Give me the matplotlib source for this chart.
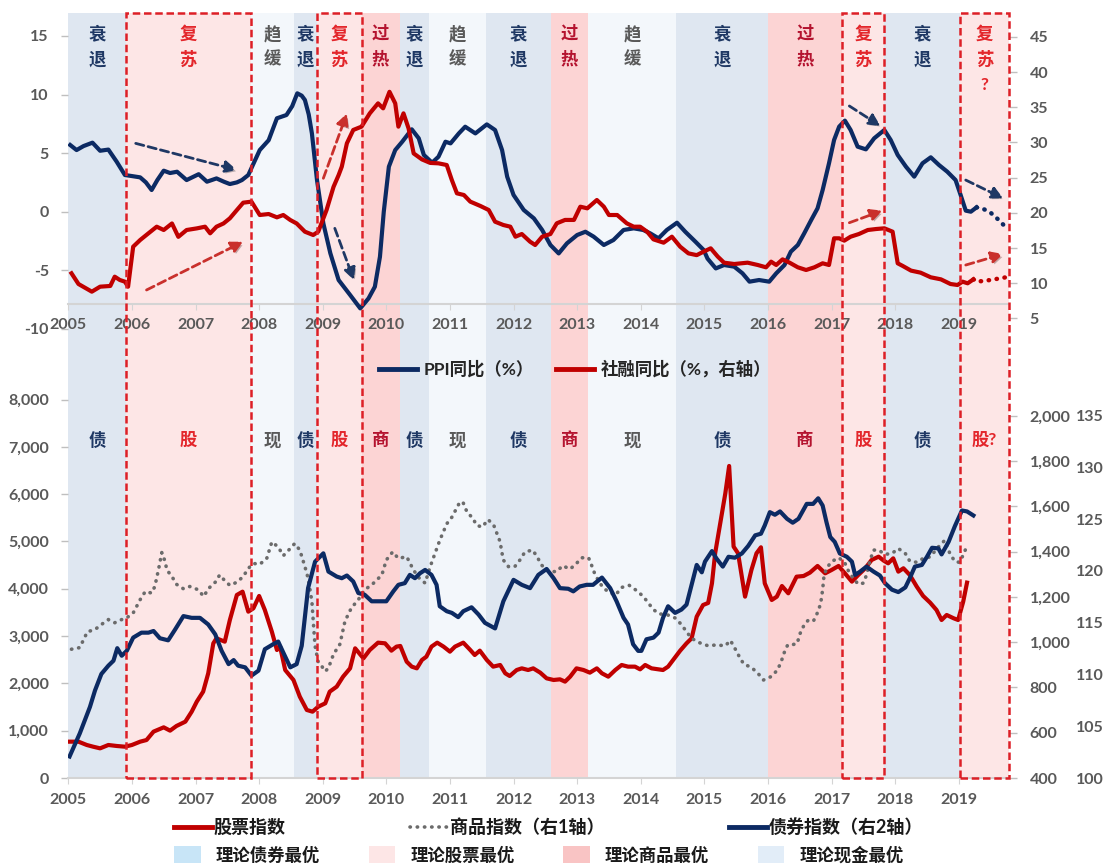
import matplotlib
matplotlib.use("Agg")
import matplotlib.pyplot as plt
import matplotlib.patches as mpatches
import matplotlib.patheffects as pe
from matplotlib.lines import Line2D

plt.rcParams['font.family'] = ['Lato', 'Noto Sans CJK SC', 'DejaVu Sans']
plt.rcParams['font.weight'] = 'bold'
plt.rcParams['axes.unicode_minus'] = False

W, H = 1104, 867
NAVY = '#0c2a63'
RED = '#c00000'
GREY_TXT = '#595959'
AXIS_C = '#d4d4d4'

# ---- cycle phases (shared by both panels) ----
edges = [2005.0, 2005.90, 2007.87, 2008.55, 2008.91, 2009.61, 2010.21, 2010.67, 2011.56,
         2012.59, 2013.17, 2014.56, 2016.0, 2017.17, 2017.82, 2019.02, 2019.79]
phases = ['衰退', '复苏', '趋缓', '衰退', '复苏', '过热', '衰退', '趋缓', '衰退',
          '过热', '趋缓', '衰退', '过热', '复苏', '衰退', '复苏?']
assets = ['债', '股', '现', '债', '股', '商', '债', '现', '债', '商', '现', '债', '商', '股', '债', '股?']
kind_of = {'衰退': 'bond', '复苏': 'stock', '趋缓': 'cash', '过热': 'comm'}

shade = {'bond': '#dfe7f1', 'stock': '#fde6e6', 'comm': '#fcd4d4', 'cash': '#f3f7fb'}
txt_c = {'bond': '#1f3864', 'stock': '#e3262b', 'comm': '#b4132f', 'cash': '#595959'}
key_c = {'bond': '#c8e5f7', 'stock': '#fde6e6', 'comm': '#f9c4c4', 'cash': '#e2edf8'}

# ---- top panel: PPI yoy (left) and social financing yoy (right) ----
ppi_t = [2005.03, 2005.13, 2005.24, 2005.38, 2005.50, 2005.63, 2005.76, 2005.89,
         2006.00, 2006.13, 2006.22, 2006.31, 2006.40, 2006.50, 2006.60, 2006.71, 2006.86,
         2007.05, 2007.18, 2007.33, 2007.45, 2007.54, 2007.65, 2007.73, 2007.83, 2007.92,
         2008.01, 2008.15, 2008.28, 2008.43, 2008.52, 2008.60, 2008.67, 2008.72, 2008.78, 2008.83, 2008.91,
         2009.01, 2009.12, 2009.25, 2009.43, 2009.59, 2009.72, 2009.82, 2009.90, 2009.96,
         2010.04, 2010.14, 2010.25, 2010.40, 2010.51, 2010.59, 2010.72, 2010.82, 2010.93,
         2011.01, 2011.14, 2011.24, 2011.40, 2011.58, 2011.71, 2011.82, 2011.90,
         2012.00, 2012.16, 2012.32, 2012.45, 2012.58, 2012.71, 2012.84,
         2013.00, 2013.13, 2013.26, 2013.42, 2013.57, 2013.73, 2013.89,
         2014.04, 2014.15, 2014.28, 2014.41, 2014.57, 2014.70, 2014.86, 2014.99,
         2015.05, 2015.18, 2015.31, 2015.47, 2015.60, 2015.71, 2015.86,
         2016.02, 2016.13, 2016.26, 2016.36, 2016.47, 2016.57, 2016.68, 2016.78, 2016.86, 2016.96,
         2017.04, 2017.12, 2017.21, 2017.30, 2017.41, 2017.54, 2017.67, 2017.83, 2017.93,
         2018.04, 2018.17, 2018.30, 2018.43, 2018.56, 2018.69, 2018.82, 2018.95,
         2019.03, 2019.11, 2019.19, 2019.28]
ppi_v = [5.69, 5.26, 5.60, 5.89, 5.20, 5.30, 4.27, 3.13,
         3.04, 2.93, 2.50, 1.85, 2.70, 3.50, 3.30, 3.41, 2.70,
         3.20, 2.56, 2.84, 2.55, 2.36, 2.50, 2.70, 3.13, 4.20,
         5.26, 6.10, 7.97, 8.25, 9.00, 10.10, 9.90, 9.53, 8.30, 6.68, 2.70,
         -1.00, -3.55, -5.83, -7.10, -8.25, -7.40, -6.40, -3.84, 0.00,
         3.84, 5.26, 5.97, 7.03, 6.26, 4.84, 4.18, 4.69, 5.97,
         5.83, 6.68, 7.25, 6.68, 7.45, 6.97, 5.26, 2.99,
         1.43, 0.15, -0.57, -1.56, -2.84, -3.56, -2.70,
         -1.99, -1.71, -2.13, -2.84, -2.42, -1.56, -1.42,
         -1.56, -1.85, -2.27, -1.56, -0.94, -1.71, -2.56, -3.27,
         -4.00, -4.84, -4.55, -4.69, -5.26, -5.97, -5.83,
         -5.97, -5.26, -4.55, -3.41, -2.84, -1.85, -0.71, 0.29, 1.85, 4.13,
         6.12, 7.26, 7.77, 6.97, 5.55, 5.32, 6.26, 6.97, 6.12,
         4.84, 3.84, 2.99, 4.13, 4.64, 3.98, 3.41, 2.70,
         1.42, 0.09, 0.00, 0.37]
ppi_fc_t = [2019.28, 2019.40, 2019.50, 2019.63, 2019.78]
ppi_fc_v = [0.37, 0.20, -0.08, -0.71, -1.56]

sf_t = [2005.05, 2005.16, 2005.37, 2005.50, 2005.66, 2005.73, 2005.81, 2005.89, 2005.94,
        2006.02, 2006.13, 2006.26, 2006.39, 2006.50, 2006.63, 2006.73, 2006.86,
        2007.02, 2007.15, 2007.23, 2007.33, 2007.44, 2007.54, 2007.65, 2007.75, 2007.88,
        2008.01, 2008.15, 2008.28, 2008.38, 2008.49, 2008.59, 2008.72, 2008.85, 2008.93,
        2009.06, 2009.17, 2009.25, 2009.30, 2009.38, 2009.48, 2009.61, 2009.74, 2009.87, 2009.95,
        2010.05, 2010.14, 2010.19, 2010.27, 2010.35, 2010.43, 2010.56, 2010.69, 2010.82, 2010.95,
        2011.03, 2011.11, 2011.22, 2011.32, 2011.48, 2011.61, 2011.71, 2011.84, 2011.95,
        2012.03, 2012.13, 2012.26, 2012.34, 2012.45, 2012.58, 2012.68, 2012.81, 2012.95,
        2013.05, 2013.16, 2013.31, 2013.42, 2013.50, 2013.63, 2013.78, 2013.89, 2013.99,
        2014.10, 2014.20, 2014.36, 2014.49, 2014.62, 2014.75, 2014.88, 2014.99,
        2015.10, 2015.21, 2015.31, 2015.47, 2015.68, 2015.84, 2015.97,
        2016.05, 2016.13, 2016.23, 2016.34, 2016.47, 2016.60, 2016.73, 2016.86, 2016.96,
        2017.04, 2017.12, 2017.20, 2017.30, 2017.43, 2017.57, 2017.70, 2017.83, 2017.96,
        2018.04, 2018.12, 2018.25, 2018.40, 2018.56, 2018.72, 2018.87, 2018.98,
        2019.06, 2019.14, 2019.23]
sf_v = [11.42, 9.90, 8.81, 9.52, 9.62, 10.94, 10.47, 10.23, 9.52,
        15.20, 16.15, 17.10, 18.04, 17.57, 18.50, 16.60, 17.57,
        17.80, 18.04, 17.10, 18.04, 18.50, 19.23, 20.40, 21.45, 21.60,
        19.70, 19.84, 19.37, 19.70, 18.99, 18.50, 17.33, 16.86, 17.33,
        20.40, 23.70, 25.37, 26.57, 29.88, 31.78, 32.25, 34.14, 35.56, 34.85,
        37.20, 35.56, 32.25, 34.14, 32.00, 28.45, 27.60, 27.10, 27.04, 26.80,
        24.67, 22.78, 22.54, 21.60, 20.98, 20.41, 18.75, 18.28, 18.04,
        16.62, 17.00, 15.91, 15.44, 16.62, 17.00, 18.52, 19.00, 19.00,
        20.88, 20.65, 21.83, 20.88, 19.70, 19.70, 18.52, 18.04, 18.04,
        17.33, 16.24, 15.77, 16.62, 15.20, 14.25, 14.00, 14.50,
        14.97, 13.80, 12.93, 12.74, 12.93, 12.60, 12.27,
        13.07, 12.60, 13.40, 12.93, 12.27, 11.89, 12.27, 12.84, 12.60,
        16.39, 16.39, 16.06, 16.62, 17.00, 17.57, 17.71, 17.81, 17.33,
        12.84, 12.46, 11.80, 11.51, 10.85, 10.56, 9.90, 9.76,
        10.23, 10.00, 10.56]
sf_fc_t = [2019.23, 2019.29, 2019.50, 2019.74]
sf_fc_v = [10.56, 10.23, 10.47, 10.85]

# ---- bottom panel: stock index (left), commodity index (right 1), bond index (right 2) ----
stk_t = [2005.02, 2005.16, 2005.29, 2005.39, 2005.50, 2005.63, 2005.76, 2005.89,
         2006.00, 2006.13, 2006.23, 2006.34, 2006.50, 2006.60, 2006.70, 2006.84, 2006.94,
         2007.02, 2007.12, 2007.20, 2007.28, 2007.33, 2007.46, 2007.54, 2007.65, 2007.74, 2007.83, 2007.91,
         2008.00, 2008.09, 2008.20, 2008.28, 2008.33, 2008.41, 2008.54, 2008.64, 2008.75, 2008.84, 2008.93,
         2009.04, 2009.11, 2009.22, 2009.32, 2009.43, 2009.51, 2009.64, 2009.74, 2009.87, 2009.98,
         2010.08, 2010.16, 2010.22, 2010.32, 2010.40, 2010.48, 2010.56, 2010.63, 2010.71, 2010.80, 2010.90,
         2011.00, 2011.08, 2011.21, 2011.32, 2011.39, 2011.47, 2011.58, 2011.68, 2011.79, 2011.87, 2011.94,
         2012.05, 2012.13, 2012.23, 2012.31, 2012.42, 2012.52, 2012.63, 2012.73, 2012.81, 2012.89, 2012.99,
         2013.10, 2013.20, 2013.31, 2013.39, 2013.49, 2013.60, 2013.70, 2013.80, 2013.91, 2013.99,
         2014.07, 2014.17, 2014.28, 2014.35, 2014.43, 2014.51, 2014.62, 2014.72, 2014.80, 2014.88, 2014.98,
         2015.06, 2015.12, 2015.17, 2015.25, 2015.33, 2015.39, 2015.46, 2015.53, 2015.64, 2015.74, 2015.82, 2015.89, 2015.95,
         2016.06, 2016.14, 2016.22, 2016.32, 2016.45, 2016.56, 2016.66, 2016.78, 2016.90,
         2017.00, 2017.11, 2017.21, 2017.32, 2017.42, 2017.53, 2017.63, 2017.74, 2017.82, 2017.89, 2017.97,
         2018.05, 2018.13, 2018.23, 2018.34, 2018.44, 2018.55, 2018.65, 2018.73, 2018.81, 2018.92, 2018.99,
         2019.07, 2019.13]
stk_v = [768, 768, 698, 662, 627, 698, 677, 662,
         698, 768, 803, 980, 1071, 1001, 1099, 1191, 1402,
         1614, 1825, 2213, 2847, 2953, 2882, 3340, 3869, 3939, 3516, 3587,
         3848, 3552, 3094, 2706, 2777, 2283, 2072, 1719, 1438, 1402, 1508,
         1579, 1825, 1931, 2142, 2318, 2741, 2530, 2706, 2861, 2847,
         2692, 2777, 2791, 2459, 2354, 2318, 2495, 2565, 2777, 2861, 2777,
         2671, 2777, 2861, 2706, 2600, 2692, 2495, 2354, 2389, 2213, 2156,
         2283, 2318, 2283, 2318, 2227, 2107, 2072, 2086, 2037, 2142, 2318,
         2283, 2227, 2318, 2213, 2142, 2283, 2389, 2354, 2354, 2297,
         2389, 2318, 2297, 2283, 2354, 2495, 2692, 2847, 2953, 3411, 3657,
         3700, 4115, 4750, 5384, 6018, 6596, 4891, 4750, 3834, 4397, 4750, 4877, 4115,
         3763, 3834, 4059, 3904, 4256, 4270, 4341, 4482, 4327,
         4397, 4482, 4327, 4151, 4292, 4433, 4609, 4679, 4595, 4538, 4644,
         4362, 4433, 4292, 4045, 3848, 3707, 3552, 3340, 3446, 3376, 3340,
         3728, 4130]

cmd_t = [2005.05, 2005.18, 2005.30, 2005.42, 2005.52, 2005.63, 2005.73, 2005.84, 2005.92,
         2006.02, 2006.13, 2006.21, 2006.31, 2006.36, 2006.42, 2006.47, 2006.52, 2006.55, 2006.63, 2006.70, 2006.81, 2006.91,
         2007.04, 2007.13, 2007.20, 2007.31, 2007.38, 2007.45, 2007.54, 2007.65, 2007.75, 2007.83, 2007.91,
         2008.01, 2008.12, 2008.20, 2008.30, 2008.38, 2008.49, 2008.56, 2008.64, 2008.72, 2008.77, 2008.83, 2008.86, 2008.88, 2008.93, 2008.98,
         2009.04, 2009.09, 2009.17, 2009.27, 2009.35, 2009.45, 2009.56, 2009.66, 2009.77, 2009.85, 2009.93,
         2010.00, 2010.10, 2010.19, 2010.32, 2010.40, 2010.49, 2010.61, 2010.69, 2010.79, 2010.84, 2010.95,
         2011.03, 2011.10, 2011.16, 2011.21, 2011.27, 2011.36, 2011.42, 2011.51, 2011.60, 2011.69, 2011.74, 2011.79, 2011.81, 2011.84, 2011.92,
         2012.02, 2012.10, 2012.18, 2012.30, 2012.37, 2012.44, 2012.55, 2012.68, 2012.77, 2012.89, 2012.99,
         2013.07, 2013.18, 2013.23, 2013.28, 2013.33, 2013.41, 2013.49, 2013.60, 2013.70, 2013.82, 2013.94,
         2014.04, 2014.12, 2014.20, 2014.29, 2014.41, 2014.54, 2014.64, 2014.72, 2014.80, 2014.92,
         2015.06, 2015.19, 2015.33, 2015.41, 2015.48, 2015.55, 2015.62, 2015.74, 2015.85, 2015.93,
         2016.05, 2016.15, 2016.21, 2016.25, 2016.31, 2016.37, 2016.46, 2016.50, 2016.56, 2016.64, 2016.72, 2016.79, 2016.83, 2016.86, 2016.88, 2016.92,
         2017.00, 2017.11, 2017.20, 2017.27, 2017.34, 2017.42, 2017.50, 2017.55, 2017.60, 2017.66, 2017.74, 2017.84, 2017.95,
         2018.05, 2018.16, 2018.23, 2018.34, 2018.44, 2018.55, 2018.68, 2018.78, 2018.86, 2018.94,
         2019.01, 2019.07, 2019.13]
cmd_v = [969, 976, 1046, 1056, 1078, 1100, 1086, 1100, 1108,
         1129, 1188, 1224, 1217, 1246, 1323, 1396, 1358, 1319, 1290, 1256, 1236, 1246,
         1232, 1202, 1236, 1265, 1297, 1275, 1251, 1265, 1290, 1326, 1348,
         1344, 1370, 1443, 1421, 1382, 1414, 1436, 1407, 1334, 1283, 1180, 1057, 983, 911, 896,
         871, 886, 947, 991, 1093, 1151, 1188, 1232, 1253, 1275, 1297,
         1363, 1399, 1370, 1378, 1334, 1290, 1261, 1334, 1411, 1450, 1523,
         1552, 1589, 1621, 1615, 1574, 1548, 1516, 1509, 1542, 1516, 1480, 1443, 1407, 1363, 1334,
         1334, 1363, 1399, 1407, 1378, 1341, 1312, 1312, 1338, 1323, 1348,
         1373, 1373, 1338, 1300, 1275, 1239, 1224, 1207, 1242, 1251, 1227,
         1202, 1173, 1144, 1125, 1122, 1107, 1078, 1046, 1017, 998,
         984, 988, 984, 1008, 973, 936, 903, 889, 860, 833,
         848, 877, 915, 950, 988, 988, 994, 1035, 1071, 1100, 1096, 1137, 1173, 1232, 1290, 1326,
         1356, 1373, 1356, 1312, 1283, 1256, 1261, 1297, 1356, 1407, 1407, 1388, 1392,
         1414, 1392, 1358, 1353, 1370, 1377, 1421, 1450, 1392, 1356,
         1353, 1385, 1426]

bnd_t = [2005.02, 2005.18, 2005.34, 2005.42, 2005.52, 2005.63, 2005.71, 2005.77, 2005.84, 2005.92,
         2006.02, 2006.15, 2006.26, 2006.34, 2006.44, 2006.57, 2006.68, 2006.81, 2006.94,
         2007.07, 2007.20, 2007.31, 2007.41, 2007.52, 2007.60, 2007.67, 2007.78, 2007.88, 2007.99,
         2008.09, 2008.22, 2008.30, 2008.38, 2008.49, 2008.59, 2008.67, 2008.77, 2008.88,
         2009.01, 2009.09, 2009.22, 2009.30, 2009.38, 2009.48, 2009.56, 2009.66, 2009.77, 2009.90,
         2010.00, 2010.11, 2010.19, 2010.29, 2010.37, 2010.45, 2010.53, 2010.61, 2010.71, 2010.79, 2010.84, 2010.95,
         2011.03, 2011.13, 2011.21, 2011.34, 2011.45, 2011.55, 2011.71, 2011.84,
         2012.00, 2012.13, 2012.26, 2012.39, 2012.52, 2012.63, 2012.73, 2012.86, 2012.94,
         2013.04, 2013.15, 2013.25, 2013.39, 2013.52, 2013.62, 2013.73, 2013.80, 2013.88, 2013.96,
         2014.01, 2014.09, 2014.20, 2014.28, 2014.35, 2014.43, 2014.54, 2014.64, 2014.72, 2014.80, 2014.88, 2014.96,
         2015.01, 2015.12, 2015.19, 2015.29, 2015.38, 2015.48, 2015.59, 2015.69, 2015.80, 2015.89, 2015.95,
         2016.03, 2016.11, 2016.19, 2016.30, 2016.39, 2016.48, 2016.61, 2016.71, 2016.79, 2016.86, 2016.92, 2016.98,
         2017.05, 2017.13, 2017.24, 2017.32, 2017.37, 2017.45, 2017.55, 2017.66, 2017.76, 2017.84, 2017.95,
         2018.05, 2018.16, 2018.23, 2018.31, 2018.42, 2018.50, 2018.58, 2018.68, 2018.73, 2018.84, 2018.94,
         2019.05, 2019.13, 2019.23]
bnd_v = [102.08, 104.30, 106.86, 108.46, 110.05, 110.85, 111.33, 112.54, 111.81, 112.29,
         113.56, 114.04, 114.04, 114.20, 113.50, 113.30, 114.35, 115.64, 115.47,
         115.47, 114.83, 113.88, 112.29, 111.00, 111.39, 110.85, 110.69, 109.89, 110.37,
         112.44, 112.92, 113.18, 112.12, 110.69, 111.00, 112.77, 118.35, 120.90,
         121.70, 119.94, 119.46, 119.30, 119.56, 118.98, 117.87, 117.70, 117.07, 117.07,
         117.07, 118.03, 118.66, 118.82, 119.62, 119.30, 119.78, 120.10, 119.62, 118.66, 116.59, 116.11,
         115.95, 115.54, 116.11, 116.49, 115.79, 114.99, 114.45, 117.07,
         119.14, 118.66, 118.34, 119.62, 120.19, 119.30, 118.34, 118.28, 118.03,
         118.50, 118.66, 118.66, 119.36, 118.34, 117.07, 115.47, 114.83, 112.92, 112.28,
         112.28, 113.40, 113.56, 114.04, 115.47, 116.59, 115.95, 116.27, 116.75, 118.66, 120.58, 119.87,
         120.90, 121.92, 121.21, 120.42, 121.37, 121.28, 121.69, 122.42, 123.44, 123.60, 124.40,
         125.68, 125.43, 125.75, 125.04, 124.66, 125.04, 126.48, 126.48, 127.02, 126.32, 124.72, 123.28,
         122.81, 121.69, 121.37, 120.90, 119.62, 119.94, 120.42, 119.94, 119.56, 118.82, 118.19,
         117.96, 118.41, 119.30, 120.42, 120.58, 121.37, 122.24, 122.18, 121.60, 122.81, 124.34,
         125.84, 125.75, 125.36]

years = list(range(2005, 2020))
XLIM = (2005.0, 2019.79)
X0, X1 = 68.3, 1009


def box(x0, y0, x1, y1):
    # pixel box (top-left origin) -> figure fraction rect
    return [x0 / W, 1 - y1 / H, (x1 - x0) / W, (y1 - y0) / H]


def style_y(ax, pad, length=5):
    ax.tick_params(axis='y', which='both', length=length, width=1, color='#bfbfbf',
                   pad=pad, labelsize=11.5, labelcolor=GREY_TXT)
    for s in ax.spines.values():
        s.set_visible(False)


fig = plt.figure(figsize=(W / 100, H / 100), dpi=100)

# background shading, shared by the two panels
bg = fig.add_axes(box(X0, 13, X1, 778))
bg.set_xlim(XLIM)
bg.set_ylim(0, 1)
bg.axis('off')
for i, ph in enumerate(phases):
    k = kind_of[ph.rstrip('?')]
    bg.axvspan(edges[i], edges[i + 1], color=shade[k], lw=0)
    xc = (edges[i] + edges[i + 1]) / 2
    for j, ch in enumerate(ph):
        bg.text(xc, 1 - (33.5 + 26 * j - 13) / 765, ch, ha='center', va='center',
                fontsize=12.5, color=txt_c[k])
    bg.text(xc, 1 - (440 - 13) / 765, assets[i], ha='center', va='center',
            fontsize=12.5, color=txt_c[k])

# ---- top panel ----
ax1 = fig.add_axes(box(X0, 13, X1, 330))
ax1.patch.set_visible(False)
ax1.set_xlim(XLIM)
ax1.set_ylim(-10.094, 16.954)
ax1.set_yticks([-10, -5, 0, 5, 10, 15])
style_y(ax1, 9)
ax1.spines['bottom'].set_visible(True)
ax1.spines['bottom'].set_position(('data', -7.875))
ax1.spines['bottom'].set_color(AXIS_C)
ax1.spines['bottom'].set_linewidth(1.5)
ax1.set_xticks(years)
ax1.set_xticklabels([str(y) for y in years])
ax1.tick_params(axis='x', length=4, color=AXIS_C, pad=6, labelsize=11.5, labelcolor=GREY_TXT)

ax1.plot(ppi_t, ppi_v, color=NAVY, lw=3, solid_joinstyle='round', zorder=3)
ax1.plot(ppi_fc_t, ppi_fc_v, color=NAVY, lw=3.2, ls=(0, (0.1, 1.7)),
         dash_capstyle='round', zorder=3)

ax1r = ax1.twinx()
ax1r.set_ylim(3.366, 48.395)
ax1r.set_yticks(range(5, 50, 5))
style_y(ax1r, 9, length=6)
ax1r.plot(sf_t, sf_v, color=RED, lw=3, solid_joinstyle='round', zorder=3)
ax1r.plot(sf_fc_t, sf_fc_v, color=RED, lw=3.2, ls=(0, (0.1, 1.7)),
          dash_capstyle='round', zorder=3)

# trend arrows (PPI axis units)
arrows = [(2006.06, 5.83, 2007.65, 3.56, '#1f3864'),
          (2006.23, -6.68, 2007.75, -2.56, '#c9302c'),
          (2009.01, 2.85, 2009.38, 8.39, '#c9302c'),
          (2009.19, -1.42, 2009.49, -5.83, '#1f3864'),
          (2017.28, 9.02, 2017.77, 7.31, '#1f3864'),
          (2017.28, -0.94, 2017.80, 0.09, '#c9302c'),
          (2019.11, 2.70, 2019.70, 1.14, '#1f3864'),
          (2019.11, -4.55, 2019.70, -3.61, '#c9302c')]
shadow = [pe.SimplePatchShadow(offset=(1.5, -1.5), alpha=0.3), pe.Normal()]
for t0, v0, t1, v1, c in arrows:
    ax1r.annotate('', xy=(t1, v1), xytext=(t0, v0),
                  xycoords=ax1.transData, textcoords=ax1.transData,
                  arrowprops=dict(arrowstyle='-|>,head_length=0.7,head_width=0.35',
                                  color=c, lw=2, ls=(0, (3, 1.6)),
                                  shrinkA=0, shrinkB=0, path_effects=shadow))

# ---- bottom panel ----
ax2 = fig.add_axes(box(X0, 390, X1, 778))
ax2.patch.set_visible(False)
ax2.set_xlim(XLIM)
ax2.set_ylim(0, 8202)
ax2.set_yticks(range(0, 9000, 1000))
ax2.set_yticklabels([f'{v:,}' for v in range(0, 9000, 1000)])
style_y(ax2, 9)
ax2.spines['bottom'].set_visible(True)
ax2.spines['bottom'].set_color(AXIS_C)
ax2.spines['bottom'].set_linewidth(1.5)
ax2.set_xticks(years)
ax2.set_xticklabels([str(y) for y in years])
ax2.tick_params(axis='x', length=4, color=AXIS_C, pad=7, labelsize=11.5, labelcolor=GREY_TXT)
ax2.plot(stk_t, stk_v, color=RED, lw=3, solid_joinstyle='round', zorder=3)

ax2c = ax2.twinx()
ax2c.set_ylim(416.2, 2114.2)
ax2c.set_yticks(range(400, 2001, 200))
ax2c.set_yticklabels([f'{v:,}' for v in range(400, 2001, 200)])
style_y(ax2c, 9, length=6)
ax2c.plot(cmd_t, cmd_v, color='#6b6b6b', lw=2.6, ls=(0, (0.1, 1.9)),
          dash_capstyle='round', zorder=3)

ax2b = ax2.twinx()
ax2b.set_ylim(100.354, 137.48)
ax2b.set_yticks(range(100, 136, 5))
style_y(ax2b, 48, length=0)
ax2b.plot(bnd_t, bnd_v, color=NAVY, lw=3, solid_joinstyle='round', zorder=3)

# red dashed frames round the recovery phases
ov = fig.add_axes(box(X0, 13, X1, 778))
ov.set_xlim(XLIM)
ov.set_ylim(0, 1)
ov.axis('off')
for i, ph in enumerate(phases):
    if ph.startswith('复苏'):
        ov.add_patch(mpatches.Rectangle((edges[i], 0), edges[i + 1] - edges[i], 1, fill=False,
                                        ec='#dd1f26', lw=1.8, ls=(0, (3, 1.5)), clip_on=False))

# ---- legends ----
top_handles = [Line2D([], [], color=NAVY, lw=3.5), Line2D([], [], color=RED, lw=3.5)]
fig.legend(top_handles, ['PPI同比（%）', '社融同比（%，右轴）'], loc='center left',
           bbox_to_anchor=(379 / W, 1 - 369 / H), ncol=2, frameon=False, fontsize=12.5,
           handlelength=2.2, handletextpad=0.35, columnspacing=1.3,
           borderpad=0, borderaxespad=0, labelcolor='#262626')

row1 = [Line2D([], [], color=RED, lw=3.5),
        Line2D([], [], color='#6b6b6b', lw=2.6, ls=(0, (0.1, 1.9)), dash_capstyle='round'),
        Line2D([], [], color=NAVY, lw=3.5)]
fig.legend(row1, ['股票指数', '商品指数（右1轴）', '债券指数（右2轴）'], loc='center left',
           bbox_to_anchor=(174 / W, 1 - 827 / H), ncol=3, frameon=False, fontsize=13,
           handlelength=2.1, handletextpad=0.1, columnspacing=6.9,
           borderpad=0, borderaxespad=0, labelcolor='#1a1a1a')

row2 = [mpatches.Patch(facecolor=key_c[k], edgecolor='none') for k in ['bond', 'stock', 'comm', 'cash']]
fig.legend(row2, ['理论债券最优', '理论股票最优', '理论商品最优', '理论现金最优'], loc='center left',
           bbox_to_anchor=(174 / W, 1 - 855 / H), ncol=4, frameon=False, fontsize=12.5,
           handlelength=1.55, handleheight=1.15, handletextpad=0.85, columnspacing=2.8,
           borderpad=0, borderaxespad=0, labelcolor='#1a1a1a')

fig.savefig('out.png', dpi=100)
